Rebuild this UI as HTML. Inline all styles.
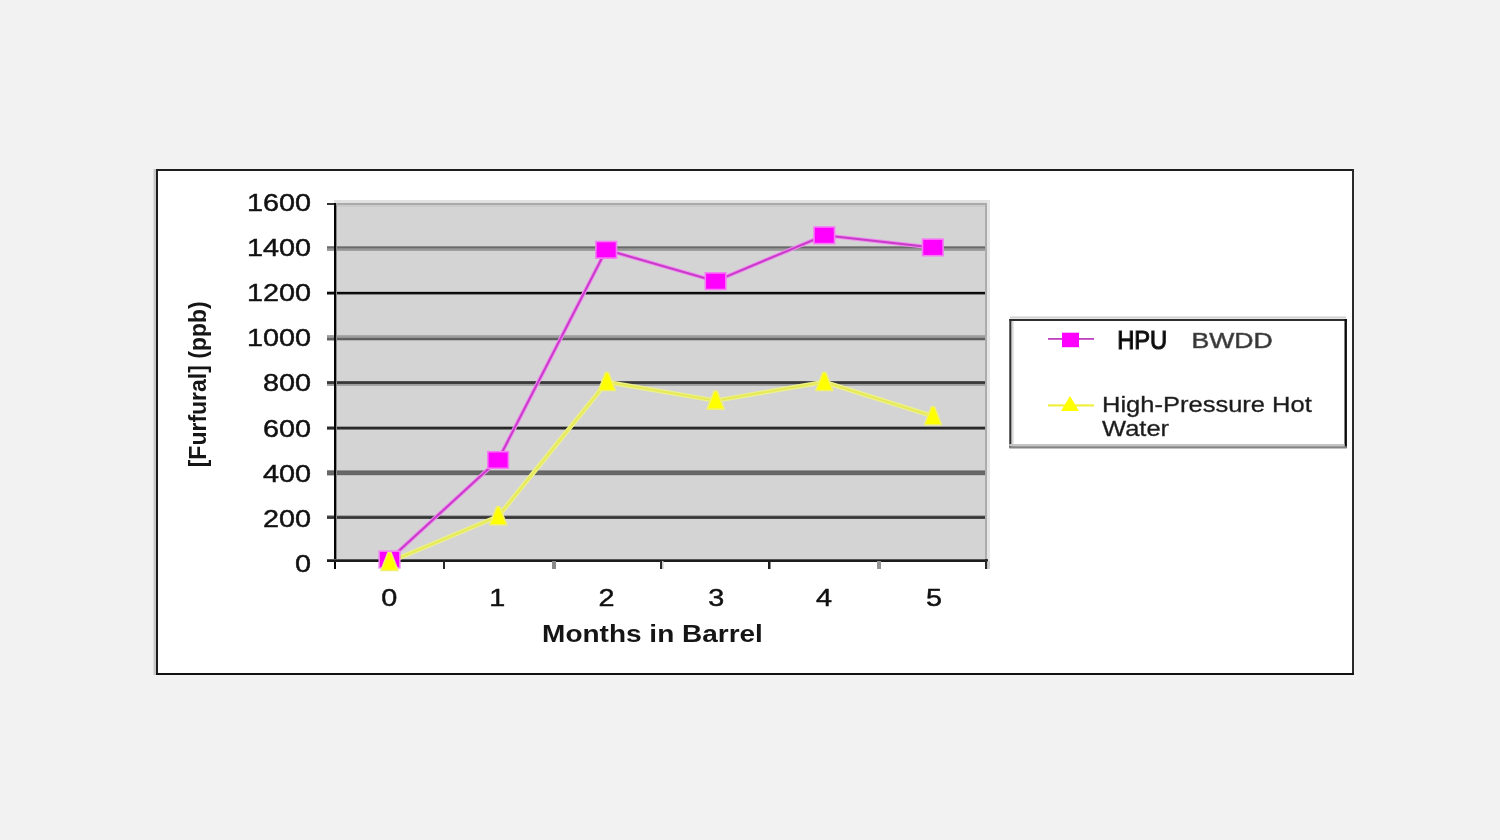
<!DOCTYPE html>
<html><head><meta charset="utf-8"><title>Furfural chart</title>
<style>
html,body{margin:0;padding:0;background:#f2f2f2;width:1500px;height:840px;overflow:hidden}
svg{display:block;filter:blur(0.55px);font-family:"Liberation Sans",Arial,sans-serif}
</style></head><body>
<svg width="1500" height="840" viewBox="0 0 1500 840">
<rect x="0" y="0" width="1500" height="840" fill="#f2f2f2"/>
<rect x="156" y="169" width="1198" height="506" fill="#fff"/>
<rect x="153.5" y="169" width="2.5" height="506" fill="#c8c8c8"/>
<rect x="156" y="169" width="2" height="506" fill="#1e1e1e"/>
<rect x="156" y="169" width="1198" height="2" fill="#1e1e1e"/>
<rect x="1352" y="169" width="2" height="506" fill="#2a2a2a"/>
<rect x="156" y="673" width="1198" height="2" fill="#111"/>
<rect x="335" y="204" width="651" height="357" fill="#d4d4d4"/>
<rect x="336" y="246" width="649" height="1" fill="#8c8c8c"/>
<rect x="327" y="246" width="7" height="1" fill="#8c8c8c"/>
<rect x="336" y="247" width="649" height="1" fill="#6a6a6a"/>
<rect x="327" y="247" width="7" height="1" fill="#6a6a6a"/>
<rect x="336" y="248" width="649" height="1" fill="#8a8a8a"/>
<rect x="327" y="248" width="7" height="1" fill="#8a8a8a"/>
<rect x="336" y="249" width="649" height="1" fill="#979797"/>
<rect x="327" y="249" width="7" height="1" fill="#979797"/>
<rect x="336" y="250" width="649" height="1" fill="#a0a0a0"/>
<rect x="327" y="250" width="7" height="1" fill="#a0a0a0"/>
<rect x="336" y="291" width="649" height="1" fill="#b4b4b4"/>
<rect x="327" y="291" width="7" height="1" fill="#b4b4b4"/>
<rect x="336" y="292" width="649" height="1" fill="#080808"/>
<rect x="327" y="292" width="7" height="1" fill="#080808"/>
<rect x="336" y="293" width="649" height="1" fill="#101010"/>
<rect x="327" y="293" width="7" height="1" fill="#101010"/>
<rect x="336" y="294" width="649" height="1" fill="#808080"/>
<rect x="327" y="294" width="7" height="1" fill="#808080"/>
<rect x="336" y="335" width="649" height="1" fill="#a8a8a8"/>
<rect x="327" y="335" width="7" height="1" fill="#a8a8a8"/>
<rect x="336" y="336" width="649" height="1" fill="#9e9e9e"/>
<rect x="327" y="336" width="7" height="1" fill="#9e9e9e"/>
<rect x="336" y="337" width="649" height="1" fill="#949494"/>
<rect x="327" y="337" width="7" height="1" fill="#949494"/>
<rect x="336" y="338" width="649" height="1" fill="#626262"/>
<rect x="327" y="338" width="7" height="1" fill="#626262"/>
<rect x="336" y="339" width="649" height="1" fill="#5e5e5e"/>
<rect x="327" y="339" width="7" height="1" fill="#5e5e5e"/>
<rect x="336" y="340" width="649" height="1" fill="#b4b4b4"/>
<rect x="327" y="340" width="7" height="1" fill="#b4b4b4"/>
<rect x="336" y="381" width="649" height="1" fill="#505050"/>
<rect x="327" y="381" width="7" height="1" fill="#505050"/>
<rect x="336" y="382" width="649" height="1" fill="#383838"/>
<rect x="327" y="382" width="7" height="1" fill="#383838"/>
<rect x="336" y="383" width="649" height="1" fill="#404040"/>
<rect x="327" y="383" width="7" height="1" fill="#404040"/>
<rect x="336" y="384" width="649" height="1" fill="#9e9e9e"/>
<rect x="327" y="384" width="7" height="1" fill="#9e9e9e"/>
<rect x="336" y="385" width="649" height="1" fill="#a4a4a4"/>
<rect x="327" y="385" width="7" height="1" fill="#a4a4a4"/>
<rect x="336" y="426" width="649" height="1" fill="#9a9a9a"/>
<rect x="327" y="426" width="7" height="1" fill="#9a9a9a"/>
<rect x="336" y="427" width="649" height="1" fill="#262626"/>
<rect x="327" y="427" width="7" height="1" fill="#262626"/>
<rect x="336" y="428" width="649" height="1" fill="#2a2a2a"/>
<rect x="327" y="428" width="7" height="1" fill="#2a2a2a"/>
<rect x="336" y="429" width="649" height="1" fill="#787878"/>
<rect x="327" y="429" width="7" height="1" fill="#787878"/>
<rect x="336" y="470" width="649" height="1" fill="#929292"/>
<rect x="327" y="470" width="7" height="1" fill="#929292"/>
<rect x="336" y="471" width="649" height="1" fill="#646464"/>
<rect x="327" y="471" width="7" height="1" fill="#646464"/>
<rect x="336" y="472" width="649" height="1" fill="#686868"/>
<rect x="327" y="472" width="7" height="1" fill="#686868"/>
<rect x="336" y="473" width="649" height="1" fill="#686868"/>
<rect x="327" y="473" width="7" height="1" fill="#686868"/>
<rect x="336" y="474" width="649" height="1" fill="#646464"/>
<rect x="327" y="474" width="7" height="1" fill="#646464"/>
<rect x="336" y="475" width="649" height="1" fill="#c0c0c0"/>
<rect x="327" y="475" width="7" height="1" fill="#c0c0c0"/>
<rect x="336" y="515" width="649" height="1" fill="#a4a4a4"/>
<rect x="327" y="515" width="7" height="1" fill="#a4a4a4"/>
<rect x="336" y="516" width="649" height="1" fill="#484848"/>
<rect x="327" y="516" width="7" height="1" fill="#484848"/>
<rect x="336" y="517" width="649" height="1" fill="#343434"/>
<rect x="327" y="517" width="7" height="1" fill="#343434"/>
<rect x="336" y="518" width="649" height="1" fill="#484848"/>
<rect x="327" y="518" width="7" height="1" fill="#484848"/>
<rect x="334" y="200" width="656" height="3" fill="#e2e2e2"/>
<rect x="336" y="203" width="649" height="2" fill="#aaaaaa"/>
<rect x="336" y="205" width="649" height="2" fill="#cbcbcb"/>
<rect x="327" y="203" width="7" height="2" fill="#333"/>
<rect x="987" y="200" width="3" height="361" fill="#e6e6e6"/>
<rect x="985" y="203" width="2" height="358" fill="#acacac"/>
<rect x="334" y="203" width="2" height="366" fill="#050505"/>
<rect x="336" y="205" width="1" height="355" fill="#8a8a8a"/>
<rect x="327" y="559" width="661" height="1" fill="#555"/>
<rect x="327" y="560" width="661" height="2" fill="#1c1c1c"/>
<rect x="443" y="561" width="2" height="8" fill="#2a2a2a"/>
<rect x="552" y="561" width="4" height="8" fill="#8a8a8a"/>
<rect x="660" y="561" width="2" height="8" fill="#2a2a2a"/><rect x="662" y="561" width="1.5" height="8" fill="#c8c8c8"/>
<rect x="768" y="561" width="2.5" height="8" fill="#1e1e1e"/>
<rect x="877" y="561" width="4" height="8" fill="#959595"/>
<rect x="985" y="559" width="2.4" height="10" fill="#2a2a2a"/><rect x="987.4" y="561" width="2.5" height="8" fill="#d0d0d0"/>
<text transform="translate(311,210.8) scale(1.2,1)" text-anchor="end" font-size="24" fill="#111" stroke="#111" stroke-width="0.45">1600</text>
<text transform="translate(311,255.9) scale(1.2,1)" text-anchor="end" font-size="24" fill="#111" stroke="#111" stroke-width="0.45">1400</text>
<text transform="translate(311,301.1) scale(1.2,1)" text-anchor="end" font-size="24" fill="#111" stroke="#111" stroke-width="0.45">1200</text>
<text transform="translate(311,346.2) scale(1.2,1)" text-anchor="end" font-size="24" fill="#111" stroke="#111" stroke-width="0.45">1000</text>
<text transform="translate(311,391.4) scale(1.2,1)" text-anchor="end" font-size="24" fill="#111" stroke="#111" stroke-width="0.45">800</text>
<text transform="translate(311,436.5) scale(1.2,1)" text-anchor="end" font-size="24" fill="#111" stroke="#111" stroke-width="0.45">600</text>
<text transform="translate(311,481.6) scale(1.2,1)" text-anchor="end" font-size="24" fill="#111" stroke="#111" stroke-width="0.45">400</text>
<text transform="translate(311,526.8) scale(1.2,1)" text-anchor="end" font-size="24" fill="#111" stroke="#111" stroke-width="0.45">200</text>
<text transform="translate(311,571.9) scale(1.2,1)" text-anchor="end" font-size="24" fill="#111" stroke="#111" stroke-width="0.45">0</text>
<text transform="translate(389.3,606) scale(1.2,1)" text-anchor="middle" font-size="24" fill="#111" stroke="#111" stroke-width="0.45">0</text>
<text transform="translate(497.2,606) scale(1.2,1)" text-anchor="middle" font-size="24" fill="#111" stroke="#111" stroke-width="0.45">1</text>
<text transform="translate(606.4,606) scale(1.2,1)" text-anchor="middle" font-size="24" fill="#111" stroke="#111" stroke-width="0.45">2</text>
<text transform="translate(716.3,606) scale(1.2,1)" text-anchor="middle" font-size="24" fill="#111" stroke="#111" stroke-width="0.45">3</text>
<text transform="translate(824.0,606) scale(1.2,1)" text-anchor="middle" font-size="24" fill="#111" stroke="#111" stroke-width="0.45">4</text>
<text transform="translate(934.0,606) scale(1.2,1)" text-anchor="middle" font-size="24" fill="#111" stroke="#111" stroke-width="0.45">5</text>
<text transform="translate(652.5,642.3) scale(1.147,1)" text-anchor="middle" font-size="24.4" font-weight="bold" fill="#151515">Months in Barrel</text>
<text transform="translate(206,384.3) rotate(-90)" text-anchor="middle" font-size="23" font-weight="bold" fill="#151515">[Furfural] (ppb)</text>
<polyline points="389.5,562.0 498.2,516.3 606.9,382.0 715.6,400.6 824.3,382.0 933.0,416.2" fill="none" stroke="#eef28a" stroke-width="4.5" stroke-linejoin="round"/>
<polyline points="389.5,562.0 498.2,516.3 606.9,382.0 715.6,400.6 824.3,382.0 933.0,416.2" fill="none" stroke="#e6ea5a" stroke-width="2.2" stroke-linejoin="round"/>
<polyline points="389.5,559.5 498.1,460.0 606.2,249.8 715.6,281.2 824.3,235.3 932.8,247.4" fill="none" stroke="#f08af0" stroke-width="4" stroke-linejoin="round"/>
<polyline points="389.5,559.5 498.1,460.0 606.2,249.8 715.6,281.2 824.3,235.3 932.8,247.4" fill="none" stroke="#c83ac8" stroke-width="2" stroke-linejoin="round"/>
<rect x="379.2" y="551.2" width="20.6" height="16.6" fill="#ff00ff" stroke="#f47af4" stroke-width="1.6"/>
<rect x="487.8" y="451.7" width="20.6" height="16.6" fill="#ff00ff" stroke="#f47af4" stroke-width="1.6"/>
<rect x="595.9" y="241.5" width="20.6" height="16.6" fill="#ff00ff" stroke="#f47af4" stroke-width="1.6"/>
<rect x="705.3" y="272.9" width="20.6" height="16.6" fill="#ff00ff" stroke="#f47af4" stroke-width="1.6"/>
<rect x="814.0" y="227.0" width="20.6" height="16.6" fill="#ff00ff" stroke="#f47af4" stroke-width="1.6"/>
<rect x="922.5" y="239.1" width="20.6" height="16.6" fill="#ff00ff" stroke="#f47af4" stroke-width="1.6"/>
<polygon points="388.0,552.5 391.0,552.5 398.0,570.5 381.0,570.5" fill="#ffff00" stroke="#f0f070" stroke-width="1.6" stroke-linejoin="round"/>
<polygon points="496.7,506.8 499.7,506.8 506.7,524.8 489.7,524.8" fill="#ffff00" stroke="#f0f070" stroke-width="1.6" stroke-linejoin="round"/>
<polygon points="605.4,372.5 608.4,372.5 615.4,390.5 598.4,390.5" fill="#ffff00" stroke="#f0f070" stroke-width="1.6" stroke-linejoin="round"/>
<polygon points="714.1,391.1 717.1,391.1 724.1,409.1 707.1,409.1" fill="#ffff00" stroke="#f0f070" stroke-width="1.6" stroke-linejoin="round"/>
<polygon points="822.8,372.5 825.8,372.5 832.8,390.5 815.8,390.5" fill="#ffff00" stroke="#f0f070" stroke-width="1.6" stroke-linejoin="round"/>
<polygon points="931.5,406.7 934.5,406.7 941.5,424.7 924.5,424.7" fill="#ffff00" stroke="#f0f070" stroke-width="1.6" stroke-linejoin="round"/>
<rect x="1009.5" y="319" width="337" height="129" fill="#fff"/>
<rect x="1010" y="316.5" width="336" height="2" fill="#d0d0d0"/>
<rect x="1009.3" y="319" width="337.5" height="2" fill="#2e2e2e"/>
<rect x="1009.3" y="319" width="2.3" height="129" fill="#2e2e2e"/>
<rect x="1011.6" y="321" width="2" height="126" fill="#d8d8d8"/>
<rect x="1344.5" y="319" width="2.4" height="129" fill="#0a0a0a"/>
<rect x="1009.3" y="444" width="335.2" height="2.2" fill="#c4c4c4"/>
<rect x="1009.3" y="446.2" width="337.5" height="2.3" fill="#858585"/>
<rect x="1048" y="338" width="46" height="1.8" fill="#c040c0"/>
<rect x="1062" y="332.7" width="17" height="14.5" fill="#ff00ff"/>
<rect x="1048" y="404.3" width="46" height="2.2" fill="#f0f040"/>
<polygon points="1070,396 1079,411 1061,411" fill="#ffff00"/>
<text transform="translate(1117.2,348.8) scale(0.895,1)" font-size="26.5" fill="#000" stroke="#222" stroke-width="1.2">HPU</text>
<text transform="translate(1191.5,347.6) scale(1.25,1)" font-size="21.3" fill="#333" stroke="#5a5a5a" stroke-width="0.6">BWDD</text>
<text transform="translate(1102,412.4) scale(1.16,1)" font-size="22" fill="#1a1a1a" stroke="#333" stroke-width="0.35">High-Pressure Hot</text>
<text transform="translate(1102,436.4) scale(1.16,1)" font-size="22" fill="#1a1a1a" stroke="#333" stroke-width="0.35">Water</text>
</svg>
</body></html>
